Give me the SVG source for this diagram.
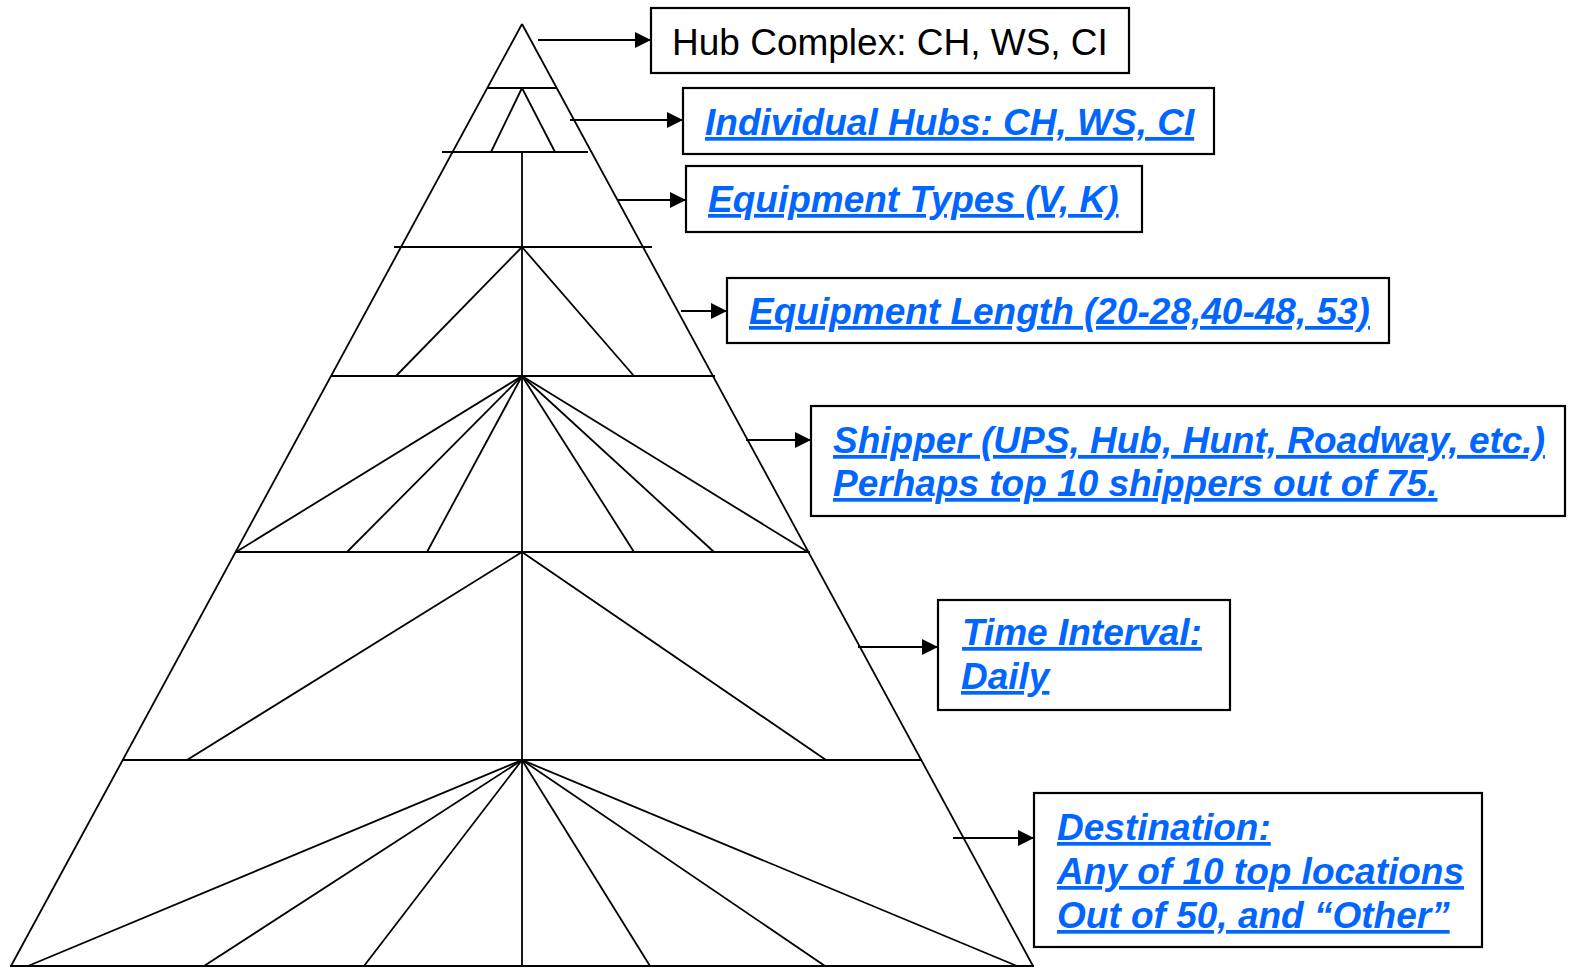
<svg xmlns="http://www.w3.org/2000/svg" width="1570" height="968" viewBox="0 0 1570 968">
<style>
.bg{fill:#ffffff}
.ln{stroke:#000;stroke-width:1.8;fill:none;stroke-linecap:butt}
.hz{stroke:#000;stroke-width:2.2;fill:none}
.box{fill:#fff;stroke:#000;stroke-width:2.2}
.arr{stroke:#000;stroke-width:2;fill:none}
.t{font-family:"Liberation Sans",Arial,Helvetica,sans-serif;font-size:37px}
.plain{fill:#000}
.link{fill:#0066ff;font-weight:bold;font-style:italic;text-decoration:underline;text-decoration-skip-ink:none;text-decoration-thickness:3px;text-underline-offset:5px}
</style>
<defs>
<marker id="ah" markerWidth="17" markerHeight="16" refX="16" refY="8" orient="auto" markerUnits="userSpaceOnUse">
<path d="M0,0 L16,8 L0,16 Z" fill="#000"/>
</marker>
</defs>
<rect class="bg" x="0" y="0" width="1570" height="968"/>
<g id="pyramid">
<line class="ln" x1="522" y1="24" x2="11" y2="966"/>
<line class="ln" x1="522" y1="24" x2="1033" y2="966"/>
<line class="hz" x1="488" y1="88" x2="556" y2="88"/>
<line class="ln" x1="522" y1="88" x2="491" y2="152"/>
<line class="ln" x1="522" y1="88" x2="555" y2="152"/>
<line class="hz" x1="442" y1="152" x2="588" y2="152"/>
<line class="ln" x1="522" y1="152" x2="522" y2="966"/>
<line class="hz" x1="394" y1="247" x2="652" y2="247"/>
<line class="ln" x1="522" y1="247" x2="396" y2="376"/>
<line class="ln" x1="522" y1="247" x2="634" y2="376"/>
<line class="hz" x1="331" y1="376" x2="715" y2="376"/>
<line class="ln" x1="522" y1="376" x2="236" y2="552"/>
<line class="ln" x1="522" y1="376" x2="347" y2="552"/>
<line class="ln" x1="522" y1="376" x2="427" y2="552"/>
<line class="ln" x1="522" y1="376" x2="634" y2="552"/>
<line class="ln" x1="522" y1="376" x2="714" y2="552"/>
<line class="ln" x1="522" y1="376" x2="808" y2="552"/>
<line class="hz" x1="235" y1="552" x2="810" y2="552"/>
<line class="ln" x1="522" y1="552" x2="187" y2="760"/>
<line class="ln" x1="522" y1="552" x2="826" y2="760"/>
<line class="hz" x1="123" y1="760" x2="922" y2="760"/>
<line class="ln" x1="522" y1="760" x2="28" y2="966"/>
<line class="ln" x1="522" y1="760" x2="204" y2="966"/>
<line class="ln" x1="522" y1="760" x2="364" y2="966"/>
<line class="ln" x1="522" y1="760" x2="650" y2="966"/>
<line class="ln" x1="522" y1="760" x2="825" y2="966"/>
<line class="ln" x1="522" y1="760" x2="1017" y2="966"/>
<line class="hz" x1="10" y1="966" x2="1034" y2="966"/>
</g>
<g id="connectors">
<line class="arr" x1="538" y1="40" x2="651" y2="40" marker-end="url(#ah)"/>
<line class="arr" x1="570" y1="120" x2="683" y2="120" marker-end="url(#ah)"/>
<line class="arr" x1="617" y1="200" x2="686" y2="200" marker-end="url(#ah)"/>
<line class="arr" x1="681" y1="311" x2="727" y2="311" marker-end="url(#ah)"/>
<line class="arr" x1="746" y1="440" x2="811" y2="440" marker-end="url(#ah)"/>
<line class="arr" x1="858" y1="647" x2="938" y2="647" marker-end="url(#ah)"/>
<line class="arr" x1="953" y1="838" x2="1034" y2="838" marker-end="url(#ah)"/>
</g>
<g id="hub-complex">
<rect class="box" x="651" y="8" width="478" height="65"/>
<text class="t plain" x="672" y="55">Hub Complex: CH, WS, CI</text>
</g>
<g id="individual-hubs">
<rect class="box" x="683" y="88" width="531" height="66"/>
<text class="t link" x="705" y="135">Individual Hubs: CH, WS, CI</text>
</g>
<g id="equipment-types">
<rect class="box" x="686" y="166" width="456" height="66"/>
<text class="t link" x="708" y="212">Equipment Types (V, K)</text>
</g>
<g id="equipment-length">
<rect class="box" x="727" y="278" width="662" height="65"/>
<text class="t link" x="749" y="324">Equipment Length (20-28,40-48, 53)</text>
</g>
<g id="shipper">
<rect class="box" x="811" y="406" width="754" height="110"/>
<text class="t link" x="833" y="453">Shipper (UPS, Hub, Hunt, Roadway, etc.)</text>
<text class="t link" x="833" y="496">Perhaps top 10 shippers out of 75.</text>
</g>
<g id="time-interval">
<rect class="box" x="938" y="600" width="292" height="110"/>
<text class="t link" x="962" y="645">Time Interval:</text>
<text class="t link" x="961" y="689">Daily</text>
</g>
<g id="destination">
<rect class="box" x="1034" y="793" width="448" height="154"/>
<text class="t link" x="1057" y="840">Destination:</text>
<text class="t link" x="1057" y="884">Any of 10 top locations</text>
<text class="t link" x="1057" y="928">Out of 50, and “Other”</text>
</g>
</svg>
